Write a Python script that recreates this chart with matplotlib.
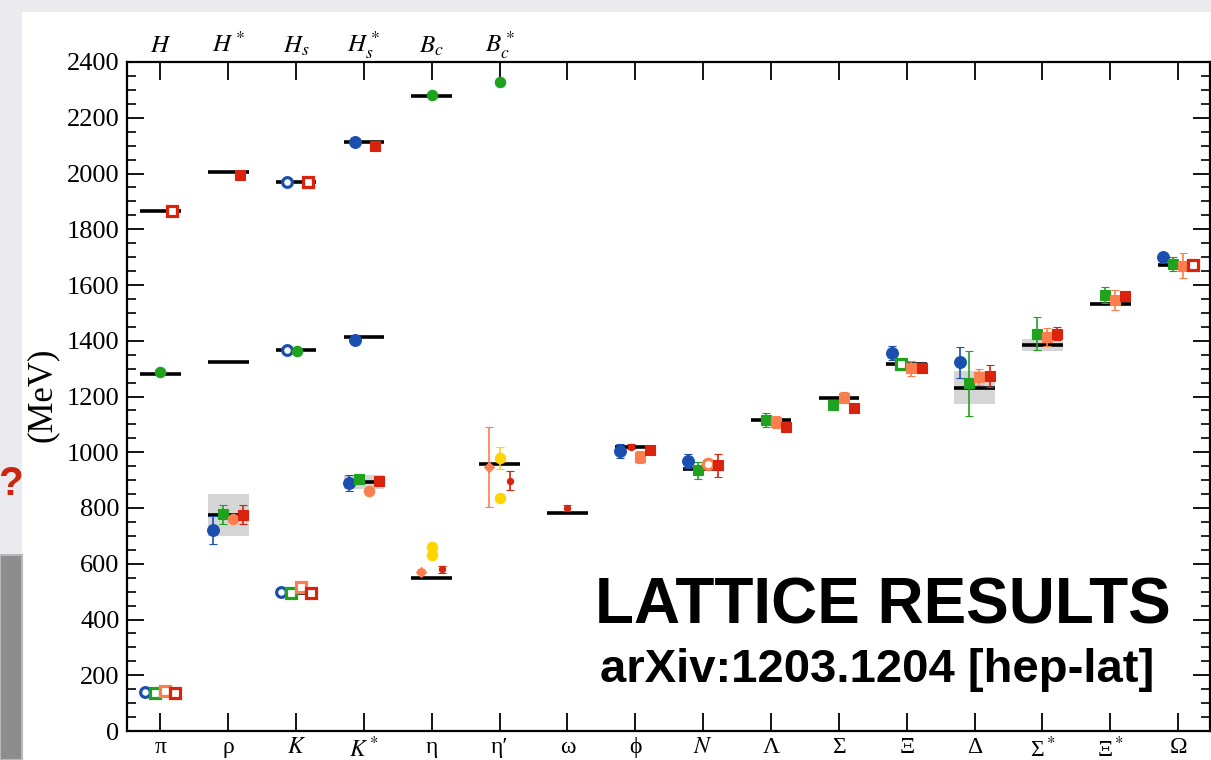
import matplotlib.pyplot as plt
import matplotlib.transforms as mtransforms
from matplotlib.patches import Rectangle
from matplotlib.ticker import MultipleLocator

plt.rcParams["font.family"] = ["Liberation Serif", "DejaVu Serif"]
plt.rcParams["mathtext.fontset"] = "stix"

# light hadrons along the bottom axis, heavy-light mesons along the top
light = ["π", "ρ", "$K$", "$K^*$", "η", "η′", "ω", "ϕ", "$N$",
         "Λ", "Σ", "Ξ", "Δ", "Σ$^*$", "Ξ$^*$", "Ω"]
heavy = ["$H$", "$H^*$", "$H_s$", "$H_s^*$", "$B_c$", "$B_c^*$"]

# experimental masses in MeV (B system shifted down by 4000 MeV)
exp_light = [138, 775, 495, 892, 548, 958, 783, 1020, 939,
             1116, 1193, 1318, 1232, 1385, 1533, 1672]
width_light = [0, 149, 0, 50, 0, 0, 8, 4, 0, 0, 0, 0, 117, 40, 9, 0]
exp_charm = [1865, 2007, 1968, 2112, 2277]   # D, D*, Ds, Ds*, Bc
exp_bottom = [1279, 1325, 1367, 1415]        # B, B*, Bs, Bs*

# lattice results: category number, mass, error (MeV)
blue_x = [2, 4, 8, 9, 12, 13, 16]
blue_m = [722, 890, 1005, 970, 1356, 1322, 1699]
blue_e = [50, 28, 25, 25, 24, 54, 12]
blue_open_x = [1, 3]
blue_open_m = [139, 498]

green_x = [2, 4, 9, 10, 11, 13, 14, 15, 16]
green_m = [777, 905, 935, 1115, 1168, 1247, 1426, 1564, 1675]
green_e = [33, 8, 30, 25, 12, 116, 58, 30, 24]
green_open_x = [1, 3, 12]
green_open_m = [135, 496, 1315]

orange_x = [8, 10, 11, 12, 13, 14, 15, 16]
orange_m = [982, 1108, 1196, 1301, 1271, 1412, 1546, 1669]
orange_e = [22, 22, 20, 28, 29, 32, 36, 45]
orange_dot_x = [2, 4]
orange_dot_m = [760, 862]
orange_dot_e = [10, 8]
orange_open_x = [1, 3]
orange_open_m = [142, 516]
orange_ring_x = [9]
orange_ring_m = [957]
orange_diam_x = [5, 6]
orange_diam_m = [572, 947]
orange_diam_e = [8, 142]

red_x = [2, 4, 8, 9, 10, 11, 12, 13, 14, 15]
red_m = [776, 896, 1008, 953, 1090, 1157, 1303, 1274, 1426, 1560]
red_e = [35, 8, 8, 40, 12, 10, 10, 39, 24, 8]
red_open_x = [1, 3, 16]
red_open_m = [136, 496, 1672]
red_small_x = [5, 6, 7, 8]
red_small_m = [580, 897, 800, 1020]
red_small_e = [12, 34, 10, 8]

yellow_x = [5, 5, 6, 6]
yellow_m = [660, 633, 980, 836]
yellow_e = [0, 0, 40, 0]

# heavy-light mesons (top labels)
hq_red_open_x = [1, 3]
hq_red_open_m = [1866, 1968]
hq_red_x = [2, 4]
hq_red_m = [1995, 2100]
hq_blue_open_x = [3, 3]
hq_blue_open_m = [1968, 1368]
hq_blue_x = [4, 4]
hq_blue_m = [2114, 1403]
hq_green_x = [1, 3, 5, 6]
hq_green_m = [1288, 1362, 2280, 2330]
hq_green_e = [12, 0, 0, 0]

BLUE = "#1a4fb0"
GREEN = "#1fa31f"
ORANGE = "#fb7f4e"
RED = "#d9230c"
YELLOW = "#ffd400"

# x, mass, error, colour, marker, hollow, size, x offset
series = [
    (blue_x, blue_m, blue_e, BLUE, "o", False, 8.5, -0.22),
    (blue_open_x, blue_open_m, None, BLUE, "o", True, 7, -0.22),
    (green_x, green_m, green_e, GREEN, "s", False, 7.5, -0.08),
    (green_open_x, green_open_m, None, GREEN, "s", True, 6.5, -0.08),
    (orange_x, orange_m, orange_e, ORANGE, "s", False, 7, 0.07),
    (orange_dot_x, orange_dot_m, orange_dot_e, ORANGE, "o", False, 7.5, 0.07),
    (orange_open_x, orange_open_m, None, ORANGE, "s", True, 6.5, 0.07),
    (orange_ring_x, orange_ring_m, None, ORANGE, "o", True, 7.5, 0.07),
    (orange_diam_x, orange_diam_m, orange_diam_e, ORANGE, "D", False, 5.5, -0.16),
    (red_x, red_m, red_e, RED, "s", False, 7.5, 0.22),
    (red_open_x, red_open_m, None, RED, "s", True, 6.5, 0.22),
    (red_small_x, red_small_m, red_small_e, RED, "o", False, 4.5, [0.15, 0.15, 0.0, -0.07]),
    (yellow_x, yellow_m, yellow_e, YELLOW, "o", False, 7.5, 0.0),
    (hq_red_open_x, hq_red_open_m, None, RED, "s", True, 6.5, 0.17),
    (hq_red_x, hq_red_m, None, RED, "s", False, 7, 0.17),
    (hq_blue_open_x, hq_blue_open_m, None, BLUE, "o", True, 7, -0.14),
    (hq_blue_x, hq_blue_m, None, BLUE, "o", False, 8.5, -0.13),
    (hq_green_x, hq_green_m, hq_green_e, GREEN, "o", False, 7.5, [0.0, 0.02, 0.0, 0.0]),
]

fig = plt.figure(figsize=(12.11, 7.6), dpi=100)
fig.patch.set_facecolor("#ebeaef")
# slide background behind the plot
fig.add_artist(Rectangle((22 / 1211, 0), 1, 1 - 12 / 760, transform=fig.transFigure,
                         facecolor="white", edgecolor="none", zorder=-2))
fig.add_artist(Rectangle((0, 0), 22 / 1211, 205 / 760, transform=fig.transFigure,
                         facecolor="#8d8d8d", edgecolor="#b8b8bc", lw=1.5, zorder=-2))
fig.text(11 / 1211, 1 - 484 / 760, "?", ha="center", va="center", fontsize=29,
         fontweight="bold", color="#c9260f", family="Liberation Sans")

ax = fig.add_axes([126.5 / 1211, 29 / 760, 1083.5 / 1211, 669 / 760])

cats = list(range(1, len(light) + 1))
box_bottom = [m - w / 2 for m, w in zip(exp_light, width_light)]
ax.bar(cats, width_light, bottom=box_bottom, width=0.6, color="#d5d5d5", zorder=1)
ax.hlines(exp_light, [c - 0.3 for c in cats], [c + 0.3 for c in cats],
          color="black", lw=2.6, zorder=3)
hc = list(range(1, len(exp_charm) + 1))
ax.hlines(exp_charm, [c - 0.3 for c in hc], [c + 0.3 for c in hc],
          color="black", lw=2.6, zorder=3)
hb = list(range(1, len(exp_bottom) + 1))
ax.hlines(exp_bottom, [c - 0.3 for c in hb], [c + 0.3 for c in hb],
          color="black", lw=2.6, zorder=3)

for xs, ms, es, col, mk, hollow, size, dx in series:
    offs = dx if isinstance(dx, list) else [dx] * len(xs)
    pos = [x + d for x, d in zip(xs, offs)]
    ax.errorbar(pos, ms, yerr=es, fmt=mk, color=col, ecolor=col,
                mfc="white" if hollow else col, mec=col, ms=size,
                mew=2.3 if hollow else 0.8, elinewidth=1.2, capsize=3,
                capthick=1.2, zorder=5)

ax.set_xlim(0.5, 16.47)
ax.set_ylim(0, 2400)
ax.set_xticks(cats)
ax.set_xticklabels(light, fontsize=17)
ax.yaxis.set_major_locator(MultipleLocator(200))
ax.yaxis.set_minor_locator(MultipleLocator(50))
ax.tick_params(axis="x", which="major", direction="in", top=True, bottom=True,
               length=13, width=1.3, pad=4)
ax.tick_params(axis="y", which="major", direction="in", left=True, right=True,
               length=12, width=1.3, pad=5, labelsize=19)
ax.tick_params(axis="y", which="minor", direction="in", left=True, right=True,
               length=6.5, width=1.2)
for s in ax.spines.values():
    s.set_linewidth(1.6)

top = mtransforms.blended_transform_factory(ax.transData, ax.transAxes)
for i, lab in enumerate(heavy):
    ax.text(i + 1, 1.0145, lab, transform=top, ha="center", va="baseline", fontsize=18)

fig.text(42 / 1211, 1 - 395 / 760, "(MeV)", rotation=90, ha="center", va="center",
         fontsize=25)

fig.text(883 / 1211, 1 - 623 / 760, "LATTICE RESULTS", ha="center", va="baseline",
         fontsize=46, fontweight="bold", family="Liberation Sans")
fig.text(877 / 1211, 1 - 682 / 760, "arXiv:1203.1204 [hep-lat]", ha="center",
         va="baseline", fontsize=34, fontweight="bold", family="Liberation Sans")

fig.savefig("out.png", dpi=100, facecolor=fig.get_facecolor())
